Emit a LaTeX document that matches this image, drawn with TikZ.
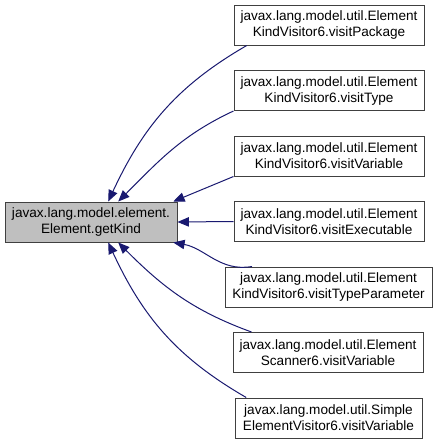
\documentclass[tikz,border=0pt]{standalone}
\usepackage{fontspec}
\setmainfont{Liberation Sans}
\definecolor{edgeblue}{RGB}{25,25,112}
\definecolor{focusgray}{RGB}{191,191,191}
\definecolor{boxborder}{RGB}{64,64,64}
\usetikzlibrary{arrows.meta}

\begin{document}
\begin{tikzpicture}[x=0.75pt,y=0.75pt,
    font=\fontsize{10.2}{12}\selectfont,
    fn/.style={draw=boxborder,line width=0.75pt,fill=white,align=center,
               minimum width=142.5pt,minimum height=30pt,inner sep=2pt},
    focus/.style={fn,fill=focusgray,minimum width=129pt},
    call/.style={draw=edgeblue,line width=0.75pt,
                 -{Triangle[length=8.5pt,width=7pt,fill=edgeblue]}}]
  \useasboundingbox (0,0) rectangle (437,-444);
  % the called function
  \node[focus] (getkind) at (91,-222) {javax.lang.model.element.\\Element.getKind};
  % its callers
  \node[fn] (pkg)   at (329,-25)    {javax.lang.model.util.Element\\KindVisitor6.visitPackage};
  \node[fn] (type)  at (329,-90.5)  {javax.lang.model.util.Element\\KindVisitor6.visitType};
  \node[fn] (var)   at (329,-156)   {javax.lang.model.util.Element\\KindVisitor6.visitVariable};
  \node[fn] (exec)  at (329,-221.5) {javax.lang.model.util.Element\\KindVisitor6.visitExecutable};
  \node[fn,minimum width=155.25pt] (tparam) at (328.5,-287)
    {javax.lang.model.util.Element\\KindVisitor6.visitTypeParameter};
  \node[fn] (scan)  at (328,-352.5) {javax.lang.model.util.Element\\Scanner6.visitVariable};
  \node[fn,minimum width=140.25pt] (simple) at (328.5,-418)
    {javax.lang.model.util.Simple\\ElementVisitor6.visitVariable};
  % call edges
  \draw[call] (pkg.194) to[out=210,in=65] (getkind.50);
  \draw[call] (type.south west) to[out=205,in=45] (getkind.37);
  \draw[call] (var.south west) -- (getkind.14);
  \draw[call] (exec.west) -- (getkind.east);
  \draw[call] (tparam.165) to[out=190,in=-10] (getkind.-14);
  \draw[call] (scan.165) to[out=160,in=-45] (getkind.-37);
  \draw[call] (simple.166) to[out=150,in=-65] (getkind.-50);
\end{tikzpicture}
\end{document}
